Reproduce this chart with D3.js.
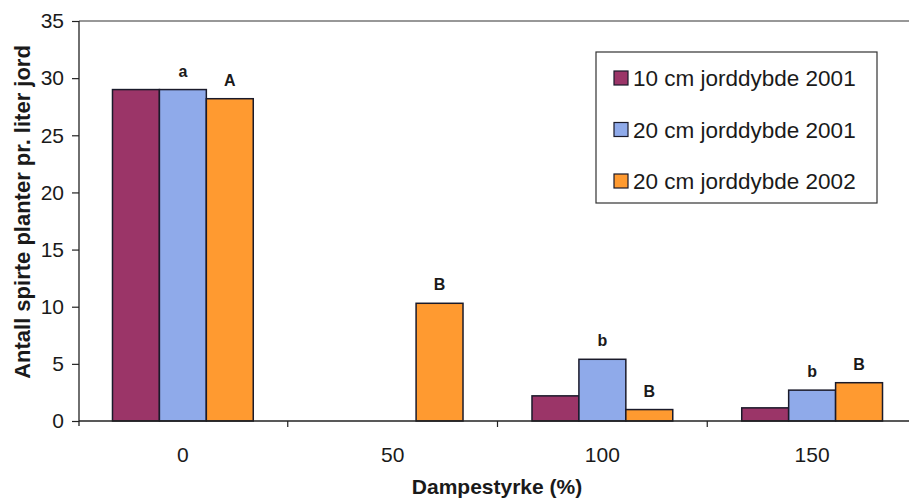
<!DOCTYPE html>
<html>
<head>
<meta charset="utf-8">
<script src="https://cdn.jsdelivr.net/npm/d3@7"></script>
<style>
  body { margin: 0; background: #fff; }
  svg { display: block; font-family: "Liberation Sans", Arial, sans-serif; }
</style>
</head>
<body>
<svg id="chart" width="909" height="500"></svg>
<script>
// Dampestyrke (%) categories
const categories = ["0", "50", "100", "150"];
const seriesNames = ["10 cm jorddybde 2001", "20 cm jorddybde 2001", "20 cm jorddybde 2002"];
const depth10_2001 = [29.0, 0, 2.2, 1.15];
const depth20_2001 = [29.0, 0, 5.4, 2.7];
const depth20_2002 = [28.2, 10.3, 1.0, 3.35];
const letters10_2001 = ["", "", "", ""];
const letters20_2001 = ["a", "", "b", "b"];
const letters20_2002 = ["A", "B", "B", "B"];
const yTicks = [0, 5, 10, 15, 20, 25, 30, 35];
const colors = ["#9b3568", "#8faaea", "#ff9a30"];

const seriesValues = [depth10_2001, depth20_2001, depth20_2002];
const seriesLetters = [letters10_2001, letters20_2001, letters20_2002];

const svg = d3.select("#chart");
const m = { left: 79, top: 21, right: 917, bottom: 421 };

const x0 = d3.scaleBand().domain(categories).range([m.left - 1, m.right]).paddingInner(0).paddingOuter(0);
const x1 = d3.scaleBand().domain(d3.range(seriesNames.length)).range([0, x0.bandwidth()])
  .paddingInner(0).paddingOuter(0.735);
const y = d3.scaleLinear().domain([0, 35]).range([m.bottom, m.top]);

// frame: top border line
svg.append("line")
  .attr("x1", m.left).attr("x2", 909).attr("y1", m.top).attr("y2", m.top)
  .attr("stroke", "#333").attr("stroke-width", 1.2);

// bars
const rows = [];
seriesValues.forEach((vals, s) => vals.forEach((v, i) => rows.push({ s, cat: categories[i], v, label: seriesLetters[s][i] })));

svg.append("g").selectAll("rect")
  .data(rows.filter(d => d.v > 0))
  .join("rect")
  .attr("x", d => x0(d.cat) + x1(d.s))
  .attr("y", d => y(d.v))
  .attr("width", x1.bandwidth())
  .attr("height", d => y(0) - y(d.v))
  .attr("fill", d => colors[d.s])
  .attr("stroke", "#1a1a2a")
  .attr("stroke-width", 1.5);

// significance letters
svg.append("g").selectAll("text")
  .data(rows.filter(d => d.label))
  .join("text")
  .attr("x", d => x0(d.cat) + x1(d.s) + x1.bandwidth() / 2)
  .attr("y", d => y(d.v) - 13)
  .attr("text-anchor", "middle")
  .attr("font-size", 16)
  .attr("font-weight", "bold")
  .attr("fill", "#1a1a1a")
  .text(d => d.label);

// y axis
const yAxis = svg.append("g")
  .attr("transform", `translate(${m.left},0)`)
  .call(d3.axisLeft(y).tickValues(yTicks).tickSize(7).tickPadding(8));
yAxis.select(".domain").attr("stroke", "#222").attr("stroke-width", 1.3)
  .attr("d", `M0,${m.top}V${m.bottom + 5}`);
yAxis.selectAll(".tick line").attr("stroke", "#222").attr("stroke-width", 1.2);
yAxis.selectAll(".tick text").attr("font-size", 21).attr("fill", "#1a1a1a")
  .attr("font-family", "Liberation Sans, Arial, sans-serif");

// x axis
const xAxis = svg.append("g")
  .attr("transform", `translate(0,${m.bottom})`)
  .call(d3.axisBottom(x0).tickSize(0).tickPadding(26));
xAxis.select(".domain").attr("stroke", "#222").attr("stroke-width", 1.3)
  .attr("d", `M${m.left},0H909`);
xAxis.selectAll(".tick text").attr("font-size", 21).attr("fill", "#1a1a1a")
  .attr("font-family", "Liberation Sans, Arial, sans-serif");
// category separator ticks
xAxis.append("g").selectAll("line")
  .data(categories.slice(1))
  .join("line")
  .attr("x1", d => x0(d)).attr("x2", d => x0(d))
  .attr("y1", 0).attr("y2", 6)
  .attr("stroke", "#222").attr("stroke-width", 1.2);

// axis titles
svg.append("text")
  .attr("transform", `translate(30,212) rotate(-90)`)
  .attr("text-anchor", "middle")
  .attr("font-size", 22).attr("font-weight", "bold").attr("fill", "#1a1a1a")
  .text("Antall spirte planter pr. liter jord");

svg.append("text")
  .attr("x", 497).attr("y", 494)
  .attr("text-anchor", "middle")
  .attr("font-size", 21).attr("font-weight", "bold").attr("fill", "#1a1a1a")
  .text("Dampestyrke (%)");

// legend
const legend = svg.append("g");
legend.append("rect")
  .attr("x", 596).attr("y", 52).attr("width", 281).attr("height", 151)
  .attr("fill", "#fff").attr("stroke", "#333").attr("stroke-width", 1.2);
const items = legend.selectAll("g.item")
  .data(seriesNames)
  .join("g")
  .attr("class", "item")
  .attr("transform", (d, i) => `translate(614,${78 + i * 51.5})`);
items.append("rect")
  .attr("x", 0).attr("y", -7).attr("width", 14).attr("height", 14)
  .attr("fill", (d, i) => colors[i]).attr("stroke", "#1a1a2a").attr("stroke-width", 1.2);
items.append("text")
  .attr("x", 19).attr("y", 8)
  .attr("font-size", 22.5).attr("fill", "#1a1a1a")
  .text(d => d);
</script>
</body>
</html>
